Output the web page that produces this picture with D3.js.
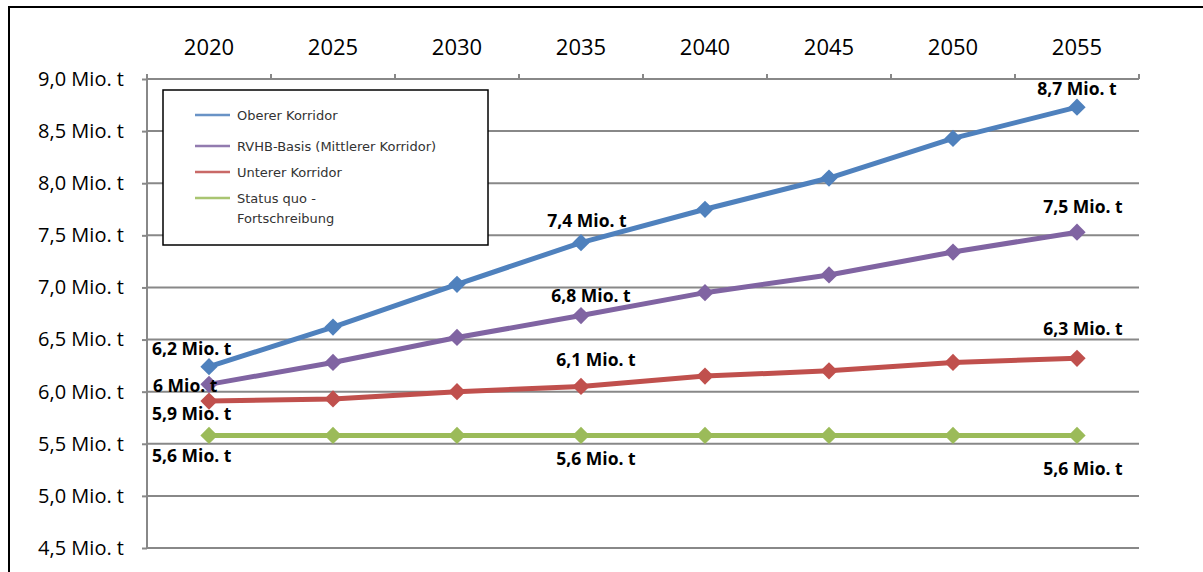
<!DOCTYPE html>
<html>
<head>
<meta charset="utf-8">
<script src="https://cdn.jsdelivr.net/npm/d3@7"></script>
<style>
    body { margin: 0; background: #fff; }
    .content { width: 1203px; height: 572px; }
    .axis-label { font-family: "Open Sans", sans-serif; fill: #000; }
    .data-label { font-family: "Open Sans", sans-serif; font-weight: bold; font-size: 17.5px; fill: #000; }
    .legend text { font-family: "DejaVu Sans", sans-serif; font-size: 13px; fill: #333; }
</style>
</head>
<body>
<div class="content"></div>
<script>
// data
var years = ["2020", "2025", "2030", "2035", "2040", "2045", "2050", "2055"];
var oberer = [6.24, 6.62, 7.03, 7.43, 7.75, 8.05, 8.43, 8.73];
var mittlerer = [6.07, 6.28, 6.52, 6.73, 6.95, 7.12, 7.34, 7.53];
var unterer = [5.91, 5.93, 6.00, 6.05, 6.15, 6.20, 6.28, 6.32];
var statusQuo = [5.58, 5.58, 5.58, 5.58, 5.58, 5.58, 5.58, 5.58];
var seriesNames = ["Oberer Korridor", "RVHB-Basis (Mittlerer Korridor)", "Unterer Korridor", "Status quo - Fortschreibung"];
var yTicks = [4.5, 5.0, 5.5, 6.0, 6.5, 7.0, 7.5, 8.0, 8.5, 9.0];
var labelTexts = ["6,2 Mio. t", "6 Mio. t", "5,9 Mio. t", "5,6 Mio. t",
                  "7,4 Mio. t", "6,8 Mio. t", "6,1 Mio. t", "5,6 Mio. t",
                  "8,7 Mio. t", "7,5 Mio. t", "6,3 Mio. t", "5,6 Mio. t"];

var chartParams = {
    "parentDiv": "div.content",
    "fullWidth": 1203,
    "fullHeight": 572,
    "plot": {'left': 147, 'right': 1139, 'top': 79, 'bottom': 548},
    "color": ["#4f81bd", "#8064a2", "#c0504d", "#9bbb59"],
    "gridColor": "#888888"
};

var series = [oberer, mittlerer, unterer, statusQuo];

// label placement: [series, year index, dx, dy, anchor]
var labelLayout = [
    [0, 0, -57, -12, "start"], [1, 0, -56, 8, "start"], [2, 0, -57, 19, "start"], [3, 0, -57, 27, "start"],
    [0, 3, 6, -16, "middle"], [1, 3, 10, -14, "middle"], [2, 3, 15, -20, "middle"], [3, 3, 15, 30, "middle"],
    [0, 7, 0, -12, "middle"], [1, 7, 6, -19, "middle"], [2, 7, 6, -23, "middle"], [3, 7, 6, 40, "middle"]
];

var p = chartParams.plot;
var color = chartParams.color;

var svg = d3.select(chartParams.parentDiv).append("svg")
    .attr("width", chartParams.fullWidth)
    .attr("height", chartParams.fullHeight);

var x = d3.scaleBand().domain(years).range([p.left, p.right]).padding(0);
var y = d3.scaleLinear().domain([4.5, 9.0]).range([p.bottom, p.top]);

//outer frame (top + left edges)
svg.append("path")
    .attr("d", "M9,572 L9,7 L1203,7")
    .attr("fill", "none")
    .attr("stroke", "#000")
    .attr("stroke-width", 2);

//gridlines
svg.append("g").selectAll("line")
    .data(yTicks)
  .enter().append("line")
    .attr("x1", p.left).attr("x2", p.right)
    .attr("y1", function(d){return y(d);}).attr("y2", function(d){return y(d);})
    .attr("stroke", chartParams.gridColor)
    .attr("stroke-width", 2);

//y-axis
var yAxis = d3.axisLeft(y).tickValues(yTicks).tickSize(5).tickPadding(18)
    .tickFormat(function(d){return d3.format(".1f")(d).replace(".", ",") + " Mio. t";});
var yg = svg.append("g")
    .attr("class", "y-axis")
    .attr("transform", "translate(" + p.left + ",0)")
    .call(yAxis);
yg.select(".domain").attr("stroke", chartParams.gridColor).attr("stroke-width", 2).attr("d", "M0," + p.top + "V" + p.bottom);
yg.selectAll(".tick line").attr("stroke", chartParams.gridColor).attr("stroke-width", 2);
yg.selectAll(".tick text").attr("class", "axis-label").style("font-size", "20px").attr("fill", "#000");

//x-axis (top, ticks between categories)
var xAxis = d3.axisTop(x).tickSize(0).tickPadding(24);
var xg = svg.append("g")
    .attr("class", "x-axis")
    .attr("transform", "translate(0," + p.top + ")")
    .call(xAxis);
xg.select(".domain").attr("stroke", chartParams.gridColor).attr("stroke-width", 2).attr("d", "M" + p.left + ",0H" + p.right);
xg.selectAll(".tick text").attr("class", "axis-label").style("font-size", "22px").attr("fill", "#000");
xg.selectAll(".sep")
    .data(years.concat(["end"]))
  .enter().append("line")
    .attr("class", "sep")
    .attr("x1", function(d, i){return p.left + i * x.bandwidth();})
    .attr("x2", function(d, i){return p.left + i * x.bandwidth();})
    .attr("y1", 0).attr("y2", -5)
    .attr("stroke", chartParams.gridColor)
    .attr("stroke-width", 2);

//lines + markers
var valueLine = d3.line()
    .x(function(d, i){return x(years[i]) + x.bandwidth() / 2;})
    .y(function(d){return y(d);});
var diamond = d3.symbol().type(d3.symbolDiamond2).size(190);

series.forEach(function(s, k){
    svg.append("path")
        .data([s])
        .attr("class", "line")
        .attr("d", valueLine)
        .attr("fill", "none")
        .attr("stroke", color[k])
        .attr("stroke-width", 5)
        .attr("stroke-linejoin", "round");
    svg.selectAll(".dot" + k)
        .data(s)
      .enter().append("path")
        .attr("class", "dot" + k)
        .attr("d", diamond)
        .attr("transform", function(d, i){return "translate(" + (x(years[i]) + x.bandwidth() / 2) + "," + y(d) + ")";})
        .attr("fill", color[k]);
});

//data labels
svg.selectAll(".data-label")
    .data(labelLayout)
  .enter().append("text")
    .attr("class", "data-label")
    .attr("x", function(d){return x(years[d[1]]) + x.bandwidth() / 2 + d[2];})
    .attr("y", function(d){return y(series[d[0]][d[1]]) + d[3];})
    .attr("text-anchor", function(d){return d[4];})
    .text(function(d, i){return labelTexts[i];});

//legend
var legend = svg.append("g").attr("class", "legend");
legend.append("rect")
    .attr("x", 163).attr("y", 90)
    .attr("width", 325).attr("height", 155)
    .attr("fill", "#fff")
    .attr("stroke", "#000")
    .attr("stroke-width", 1.5);
var legendRows = [115, 146, 172, 198];
seriesNames.forEach(function(name, k){
    legend.append("line")
        .attr("x1", 195).attr("x2", 230)
        .attr("y1", legendRows[k]).attr("y2", legendRows[k])
        .attr("stroke", color[k])
        .attr("stroke-width", 2.5)
        .attr("opacity", 0.85);
    var parts = name.indexOf(" - ") > 0 ? [name.split(" - ")[0] + " -", name.split(" - ")[1]] : [name];
    parts.forEach(function(t, j){
        legend.append("text")
            .attr("x", 237)
            .attr("y", legendRows[k] + 5 + j * 20)
            .text(t);
    });
});
</script>
</body>
</html>
